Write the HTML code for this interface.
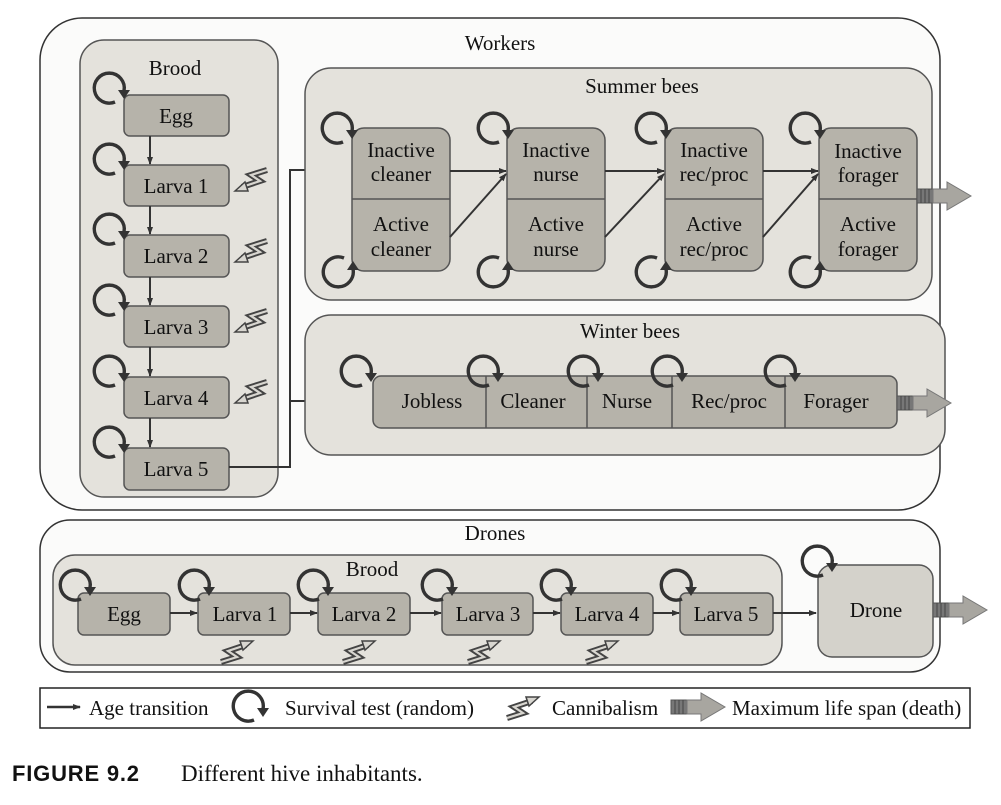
<!DOCTYPE html>
<html><head><meta charset="utf-8"><style>
html,body{margin:0;padding:0;background:#fff;}
svg{display:block;}
text{font-family:"Liberation Serif",serif;font-size:21px;fill:#111;}
</style></head><body>
<svg width="1001" height="805" viewBox="0 0 1001 805" xmlns="http://www.w3.org/2000/svg">
<defs>
<g id="loop">
 <path d="M 5 14 A 15 15 0 1 1 14 3" fill="none" stroke="#333" stroke-width="3.4"/>
 <polygon points="8,2 20,2 14,11" fill="#333"/>
</g>
<g id="cz">
 <path d="M 16 -11 L 0 -6 L 9 0 L -9 6" fill="none" stroke="#444" stroke-width="6" stroke-linejoin="miter"/>
 <path d="M 16 -11 L 0 -6 L 9 0 L -9 6" fill="none" stroke="#d8d6d0" stroke-width="2.2"/>
 <polygon points="-16,10 -6,1 -3,10" fill="#d8d6d0" stroke="#444" stroke-width="1.5"/>
</g>
<g id="death">
 <rect x="0" y="-7" width="16" height="14" fill="#777" stroke="#555" stroke-width="1"/>
 <line x1="4" y1="-7" x2="4" y2="7" stroke="#444"/><line x1="8" y1="-7" x2="8" y2="7" stroke="#444"/><line x1="12" y1="-7" x2="12" y2="7" stroke="#444"/>
 <polygon points="16,-7 30,-7 30,-14 54,0 30,14 30,7 16,7" fill="#a8a6a0" stroke="#777" stroke-width="1"/>
</g>
<marker id="ah" markerWidth="8" markerHeight="8" refX="7" refY="4" orient="auto" markerUnits="userSpaceOnUse">
 <polygon points="0,1 8,4 0,7" fill="#333"/>
</marker>
</defs>

<rect x="40" y="18" width="900" height="492" rx="42" fill="#fbfbfa" stroke="#333" stroke-width="1.5"/>
<text x="500" y="50" text-anchor="middle">Workers</text>

<rect x="80" y="40" width="198" height="457" rx="24" fill="#e4e2dc" stroke="#555" stroke-width="1.5"/>
<text x="175" y="75" text-anchor="middle">Brood</text>
<g fill="#b6b3aa" stroke="#555" stroke-width="1.5">
<rect x="124" y="95" width="105" height="41" rx="6"/>
<rect x="124" y="165" width="105" height="41" rx="6"/>
<rect x="124" y="235" width="105" height="42" rx="6"/>
<rect x="124" y="306" width="105" height="41" rx="6"/>
<rect x="124" y="377" width="105" height="41" rx="6"/>
<rect x="124" y="448" width="105" height="42" rx="6"/>
</g>
<text x="176" y="123" text-anchor="middle">Egg</text>
<text x="176" y="193" text-anchor="middle">Larva 1</text>
<text x="176" y="263" text-anchor="middle">Larva 2</text>
<text x="176" y="334" text-anchor="middle">Larva 3</text>
<text x="176" y="405" text-anchor="middle">Larva 4</text>
<text x="176" y="476" text-anchor="middle">Larva 5</text>
<g stroke="#333" stroke-width="2" marker-end="url(#ah)">
<line x1="150" y1="136" x2="150" y2="164"/>
<line x1="150" y1="206" x2="150" y2="234"/>
<line x1="150" y1="277" x2="150" y2="305"/>
<line x1="150" y1="347" x2="150" y2="376"/>
<line x1="150" y1="418" x2="150" y2="447"/>
</g>
<use href="#loop" x="110" y="88"/>
<use href="#loop" x="110" y="159"/>
<use href="#loop" x="110" y="229"/>
<use href="#loop" x="110" y="300"/>
<use href="#loop" x="110" y="371"/>
<use href="#loop" x="110" y="442"/>
<use href="#cz" x="251" y="181"/>
<use href="#cz" x="251" y="252"/>
<use href="#cz" x="251" y="322"/>
<use href="#cz" x="251" y="393"/>

<polyline points="229,467 290,467 290,170 350,170" fill="none" stroke="#333" stroke-width="2" marker-end="url(#ah)"/>
<line x1="290" y1="401" x2="371" y2="401" stroke="#333" stroke-width="2" marker-end="url(#ah)"/>

<rect x="305" y="68" width="627" height="232" rx="26" fill="#e4e2dc" stroke="#555" stroke-width="1.5"/>
<text x="642" y="93" text-anchor="middle">Summer bees</text>
<g fill="#b6b3aa" stroke="#555" stroke-width="1.5">
<rect x="352" y="128" width="98" height="143" rx="12"/>
<rect x="507" y="128" width="98" height="143" rx="12"/>
<rect x="665" y="128" width="98" height="143" rx="12"/>
<rect x="819" y="128" width="98" height="143" rx="12"/>
</g>
<g stroke="#555" stroke-width="1.5">
<line x1="352" y1="199" x2="450" y2="199"/>
<line x1="507" y1="199" x2="605" y2="199"/>
<line x1="665" y1="199" x2="763" y2="199"/>
<line x1="819" y1="199" x2="917" y2="199"/>
</g>
<g text-anchor="middle">
<text x="401" y="157">Inactive</text><text x="401" y="181">cleaner</text>
<text x="401" y="231">Active</text><text x="401" y="256">cleaner</text>
<text x="556" y="157">Inactive</text><text x="556" y="181">nurse</text>
<text x="556" y="231">Active</text><text x="556" y="256">nurse</text>
<text x="714" y="157">Inactive</text><text x="714" y="181">rec/proc</text>
<text x="714" y="231">Active</text><text x="714" y="256">rec/proc</text>
<text x="868" y="158">Inactive</text><text x="868" y="182">forager</text>
<text x="868" y="231">Active</text><text x="868" y="256">forager</text>
</g>
<g stroke="#333" stroke-width="2" marker-end="url(#ah)">
<line x1="450" y1="171" x2="506" y2="171"/>
<line x1="450" y1="237" x2="506" y2="174"/>
<line x1="605" y1="171" x2="664" y2="171"/>
<line x1="605" y1="237" x2="664" y2="174"/>
<line x1="763" y1="171" x2="818" y2="171"/>
<line x1="763" y1="237" x2="818" y2="174"/>
</g>
<use href="#loop" x="338" y="128"/>
<use href="#loop" x="494" y="128"/>
<use href="#loop" x="652" y="128"/>
<use href="#loop" x="806" y="128"/>
<use href="#loop" transform="translate(339,272) scale(1,-1)"/>
<use href="#loop" transform="translate(494,272) scale(1,-1)"/>
<use href="#loop" transform="translate(652,272) scale(1,-1)"/>
<use href="#loop" transform="translate(806,272) scale(1,-1)"/>
<use href="#death" x="917" y="196"/>

<rect x="305" y="315" width="640" height="140" rx="26" fill="#e4e2dc" stroke="#555" stroke-width="1.5"/>
<text x="630" y="338" text-anchor="middle">Winter bees</text>
<rect x="373" y="376" width="524" height="52" rx="8" fill="#b6b3aa" stroke="#555" stroke-width="1.5"/>
<g stroke="#555" stroke-width="1.5">
<line x1="486" y1="376" x2="486" y2="428"/>
<line x1="587" y1="376" x2="587" y2="428"/>
<line x1="672" y1="376" x2="672" y2="428"/>
<line x1="785" y1="376" x2="785" y2="428"/>
</g>
<g text-anchor="middle">
<text x="432" y="408">Jobless</text>
<text x="533" y="408">Cleaner</text>
<text x="627" y="408">Nurse</text>
<text x="729" y="408">Rec/proc</text>
<text x="836" y="408">Forager</text>
</g>
<use href="#loop" x="357" y="371"/>
<use href="#loop" x="484" y="371"/>
<use href="#loop" x="584" y="371"/>
<use href="#loop" x="668" y="371"/>
<use href="#loop" x="781" y="371"/>
<use href="#death" x="897" y="403"/>

<rect x="40" y="520" width="900" height="152" rx="30" fill="#fbfbfa" stroke="#333" stroke-width="1.5"/>
<text x="495" y="540" text-anchor="middle">Drones</text>
<rect x="53" y="555" width="729" height="110" rx="22" fill="#e4e2dc" stroke="#555" stroke-width="1.5"/>
<text x="372" y="576" text-anchor="middle">Brood</text>
<g fill="#b6b3aa" stroke="#555" stroke-width="1.5">
<rect x="78" y="593" width="92" height="42" rx="6"/>
<rect x="198" y="593" width="92" height="42" rx="6"/>
<rect x="318" y="593" width="92" height="42" rx="6"/>
<rect x="442" y="593" width="91" height="42" rx="6"/>
<rect x="561" y="593" width="92" height="42" rx="6"/>
<rect x="680" y="593" width="93" height="42" rx="6"/>
</g>
<rect x="818" y="565" width="115" height="92" rx="14" fill="#d4d2cb" stroke="#555" stroke-width="1.5"/>
<g text-anchor="middle">
<text x="124" y="621">Egg</text>
<text x="245" y="621">Larva 1</text>
<text x="364" y="621">Larva 2</text>
<text x="488" y="621">Larva 3</text>
<text x="607" y="621">Larva 4</text>
<text x="726" y="621">Larva 5</text>
<text x="876" y="617">Drone</text>
</g>
<g stroke="#333" stroke-width="2" marker-end="url(#ah)">
<line x1="170" y1="613" x2="197" y2="613"/>
<line x1="290" y1="613" x2="317" y2="613"/>
<line x1="410" y1="613" x2="441" y2="613"/>
<line x1="533" y1="613" x2="560" y2="613"/>
<line x1="653" y1="613" x2="679" y2="613"/>
<line x1="773" y1="613" x2="816" y2="613"/>
</g>
<use href="#loop" x="76" y="585"/>
<use href="#loop" x="195" y="585"/>
<use href="#loop" x="314" y="585"/>
<use href="#loop" x="438" y="585"/>
<use href="#loop" x="557" y="585"/>
<use href="#loop" x="677" y="585"/>
<use href="#loop" x="818" y="561"/>
<use href="#cz" transform="translate(237,651) rotate(180)"/>
<use href="#cz" transform="translate(359,651) rotate(180)"/>
<use href="#cz" transform="translate(484,651) rotate(180)"/>
<use href="#cz" transform="translate(602,651) rotate(180)"/>
<use href="#death" x="933" y="610"/>

<rect x="40" y="688" width="930" height="40" fill="#fff" stroke="#222" stroke-width="1.5"/>
<line x1="47" y1="707" x2="80" y2="707" stroke="#333" stroke-width="2.5" marker-end="url(#ah)"/>
<text x="89" y="715">Age transition</text>
<use href="#loop" x="249" y="706"/>
<text x="285" y="715">Survival test (random)</text>
<use href="#cz" transform="translate(523,707) rotate(180)"/>
<text x="552" y="715">Cannibalism</text>
<use href="#death" x="671" y="707"/>
<text x="732" y="715">Maximum life span (death)</text>

<text x="12" y="781" style="font-family:'Liberation Sans',sans-serif;font-weight:bold;font-size:22px;letter-spacing:0.8px">FIGURE 9.2</text>
<text x="181" y="781" style="font-size:23px">Different hive inhabitants.</text>
</svg>
</body></html>
